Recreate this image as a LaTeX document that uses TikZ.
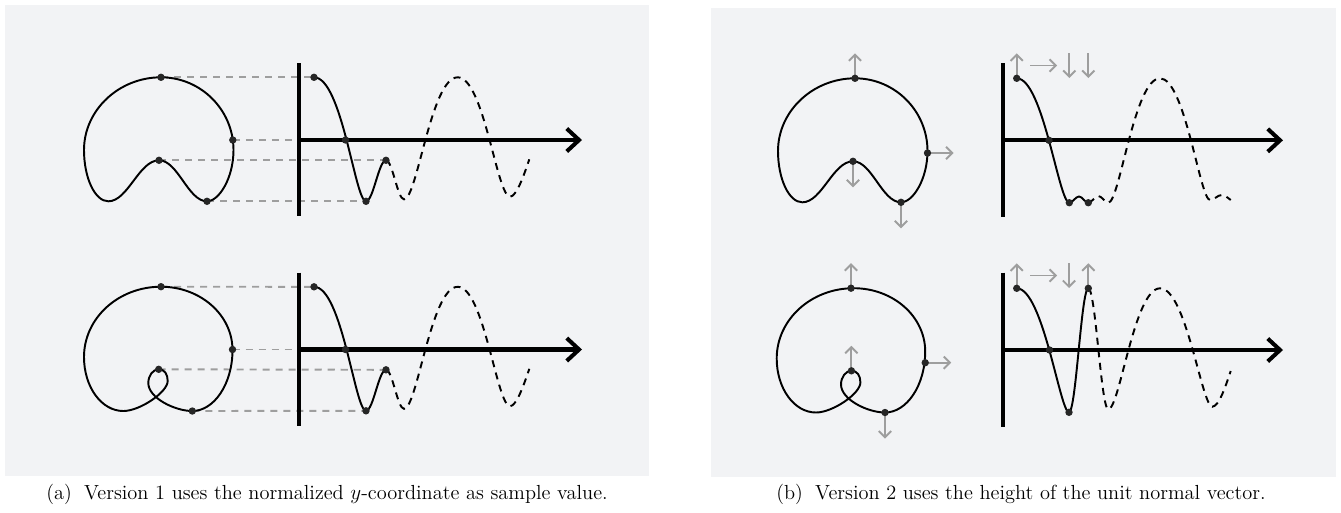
\documentclass[tikz,border=0pt]{standalone}
\usepackage{tikz}
\usetikzlibrary{arrows.meta}
\definecolor{panelbg}{RGB}{242,243,245}
\definecolor{projgray}{RGB}{158,158,158}
\definecolor{dotblack}{RGB}{38,38,38}

\begin{document}
\begin{tikzpicture}[x=0.02cm, y=-0.02cm,
    curve/.style={line width=1.1pt, line join=round},
    signal/.style={line width=1.1pt},
    gap/.style={signal, dash pattern=on 4pt off 3.2pt},
    axisline/.style={line width=2.3pt},
    axisarrow/.style={axisline, -{Straight Barb[length=7pt, width=13pt]}},
    proj/.style={line width=1.1pt, projgray, dash pattern=on 4pt off 3.4pt},
    normal/.style={line width=1.1pt, projgray, -{Straight Barb[length=3.5pt, width=7pt]}},
    dot/.style={circle, fill=dotblack, inner sep=0pt, minimum size=4.2pt},
    caption/.style={font=\fontsize{11.6}{14}\selectfont, anchor=base}]
  \useasboundingbox (0,0) rectangle (1341,512);
  \fill[panelbg] (5,5) rectangle (649,476);
  \fill[panelbg] (711,8) rectangle (1336,477);

  % sample points: curve (p, r) and signal (q, t)
  \coordinate (p1) at (161,77.3);    \coordinate (q1) at (314,77.3);
  \coordinate (p2) at (232.8,140);   \coordinate (o1) at (299,140);
  \coordinate (p3) at (159,160.3);   \coordinate (q3) at (386,160.3);
  \coordinate (p4) at (207,201.3);   \coordinate (q4) at (366,201.3);
  \coordinate (q2) at (345.5,140);
  \coordinate (p5) at (161,286.7);   \coordinate (q5) at (314,286.8);
  \coordinate (p6) at (232.5,349.5); \coordinate (o2) at (299,349.5);
  \coordinate (p7) at (158.7,369.3); \coordinate (q7) at (386,369.8);
  \coordinate (p8) at (192.3,411);   \coordinate (q8) at (366,410.8);
  \coordinate (q6) at (345.5,349.5);
  \coordinate (r1) at (855,78.3);    \coordinate (t1) at (1016.7,78.3);
  \coordinate (r2) at (927.5,153);   \coordinate (t2) at (1049,140.3);
  \coordinate (r3) at (853,161.3);   \coordinate (t3) at (1069.3,202.7);
  \coordinate (r4) at (901,202.3);   \coordinate (t4) at (1088.3,202.7);
  \coordinate (r5) at (851,288.2);   \coordinate (t5) at (1016.7,288.3);
  \coordinate (r6) at (925.2,362.7); \coordinate (t6) at (1049.5,350);
  \coordinate (r7) at (851.4,370.8); \coordinate (t7) at (1069,412.3);
  \coordinate (r8) at (885,412.5);   \coordinate (t8) at (1088.3,288.3);

  % version 1: projection of the y-coordinate
  \foreach \a/\b in {p1/q1, p2/o1, p3/q3, p4/q4, p5/q5, p6/o2, p7/q7, p8/q8}
    \draw[proj] (\a) -- (\b);

  \foreach \dy in {0, 209.5} {
    \begin{scope}[shift={(0,\dy)}]
      \draw[axisline] (299,63) -- (299,216);
      \draw[axisarrow] (299,140) -- (582,140);
      \draw[signal] (314,77.3) .. controls (342,77.3) and (355,201.3) .. (366,201.3)
        .. controls (373.3,201.3) and (378.7,160.3) .. (386,160.3);
      \draw[gap] (386,160.3) .. controls (392.5,160.3) and (397.5,199.3) .. (404,199.3)
        .. controls (417.4,199.3) and (430.9,77.3) .. (457.7,77.3)
        .. controls (483.9,77.3) and (496.9,196.7) .. (510,196.7)
        .. controls (516.5,196.7) and (524,175) .. (529.3,159.3);
    \end{scope}
  }

  % version 2: height of the unit normal
  \foreach \dy in {0, 209.7} {
    \draw[axisline] (1003,63+\dy) -- (1003,217+\dy);
    \draw[axisarrow] (1003,140.3+\dy) -- (1283,140.3+\dy);
  }
  \draw[signal] (t1) .. controls (1043,78.3) and (1058.8,202.7) .. (t3)
    .. controls (1072.8,202.7) and (1075.5,196.5) .. (1079,196.5)
    .. controls (1082.4,196.5) and (1084.9,202.7) .. (t4);
  \draw[gap] (t4) .. controls (1091.9,202.7) and (1094.7,196) .. (1098.3,196)
    .. controls (1101.9,196) and (1104.7,202.7) .. (1108.3,202.7)
    .. controls (1119.7,202.7) and (1134.2,78.3) .. (1160,78.3)
    .. controls (1185,78.3) and (1200,200) .. (1210,200)
    .. controls (1214.2,200) and (1217.5,195) .. (1221.7,195)
    .. controls (1225,195) and (1228,198) .. (1230.7,200);
  \draw[signal] (t5) .. controls (1043,288.3) and (1060,412.3) .. (t7)
    .. controls (1076,412.3) and (1081.3,288.3) .. (t8);
  \draw[gap] (t8) .. controls (1095.6,288.3) and (1101,409.3) .. (1108.3,409.3)
    .. controls (1119.7,409.3) and (1134.2,288.3) .. (1160,288.3)
    .. controls (1186.2,288.3) and (1201.8,406.7) .. (1212.3,406.7)
    .. controls (1219,406.7) and (1226,385) .. (1230.7,371);

  % curves
  \foreach \dx/\dy in {0/0, 694/1}
    \draw[curve, shift={(\dx,\dy)}] (161,77.3)
      .. controls (201,77.3) and (233.5,110) .. (233.5,150)
      .. controls (233.5,178) and (219,201.3) .. (207,201.3)
      .. controls (188,201.3) and (178,160.3) .. (159,160.3)
      .. controls (139,160.3) and (128,201.3) .. (108.3,201.3)
      .. controls (95,201.3) and (84,178) .. (84,150)
      .. controls (84,110) and (119,77.3) .. (161,77.3) -- cycle;
  \foreach \dx/\dy in {0/0, 692.7/1.5}
    \draw[curve, shift={(\dx,\dy)}] (161,286.7)
      .. controls (200.5,286.7) and (232.5,315) .. (232.5,350)
      .. controls (232.5,384) and (214,411) .. (192.3,411)
      .. controls (175,411) and (148.3,398) .. (148.3,383)
      .. controls (148.3,375.5) and (153,369.3) .. (158.7,369.3)
      .. controls (164.5,369.3) and (167.7,374) .. (167.7,381)
      .. controls (167.7,392) and (140,411) .. (123.3,411)
      .. controls (101.5,411) and (84,387) .. (84,357)
      .. controls (84,318) and (118.5,286.7) .. (161,286.7) -- cycle;

  % unit normals
  \draw[normal] (r1) -- ++(0,-25);
  \draw[normal] (r2) -- ++(26,0);
  \draw[normal] (r3) -- ++(0,26);
  \draw[normal] (r4) -- ++(0,26);
  \draw[normal] (r5) -- ++(0,-25);
  \draw[normal] (r6) -- ++(26,0);
  \draw[normal] (r7) -- ++(0,-25);
  \draw[normal] (r8) -- ++(0,26);
  % normals as labels above the signal
  \draw[normal] (t1) -- ++(0,-25);
  \draw[normal] (1030,65.5) -- (1057,65.5);
  \draw[normal] (1069.3,53) -- (1069.3,78);
  \draw[normal] (1088.3,53) -- (1088.3,78);
  \draw[normal] (t5) -- ++(0,-25);
  \draw[normal] (1030,275.5) -- (1057,275.5);
  \draw[normal] (1069,263) -- (1069,288);
  \draw[normal] (t8) -- ++(0,-25);

  \foreach \n in {p1,p2,p3,p4,p5,p6,p7,p8,q1,q2,q3,q4,q5,q6,q7,q8,
                  r1,r2,r3,r4,r5,r6,r7,r8,t1,t2,t3,t4,t5,t6,t7,t8}
    \node[dot] at (\n) {};

  \node[caption] (capa) at (327,499.5)
    {(a)\hspace{0.6em}Version 1 uses the normalized $y$-coordinate as sample value.};
  \node[caption] (capb) at (1021,499.5)
    {(b)\hspace{0.6em}Version 2 uses the height of the unit normal vector.};
\end{tikzpicture}
\end{document}
